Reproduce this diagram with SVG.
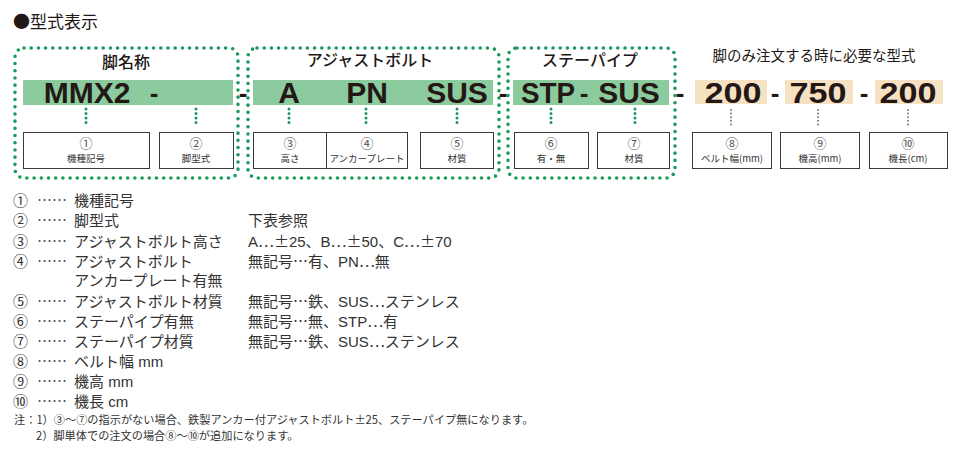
<svg xmlns="http://www.w3.org/2000/svg" width="960" height="449" viewBox="0 0 960 449">
<style>
text{font-family:"Liberation Sans","Noto Sans CJK JP",sans-serif;fill:#231815}
.jp{font-family:"Noto Sans CJK JP","Liberation Sans",sans-serif}
.hd{font-family:"Noto Sans CJK JP",sans-serif;font-size:16px;font-weight:500;text-anchor:middle}
.big{font-family:"Liberation Sans","Noto Sans CJK JP",sans-serif;font-size:30px;font-weight:bold;text-anchor:middle}
.dash{font-family:"Liberation Sans",sans-serif;font-size:26px;font-weight:bold;text-anchor:middle}
.grp{fill:none;stroke:#1a9a5c;stroke-width:3.6;stroke-dasharray:0 7.2;stroke-linecap:round}
.gbar{fill:#8ccb9d}
.tbar{fill:#f6e2c3}
.box{fill:#fff;stroke:#3a3a3a;stroke-width:1}
.num{font-family:"Noto Sans CJK JP",sans-serif;font-size:13px;text-anchor:middle;fill:#555}
.lbl{font-family:"Noto Sans CJK JP",sans-serif;font-size:9.5px;text-anchor:middle;fill:#333}
.cg{stroke:#1a9a5c;stroke-width:3;stroke-dasharray:0 4.5;stroke-linecap:round;fill:none}
.cy{stroke:#777;stroke-width:2;stroke-dasharray:0 3.6;stroke-linecap:round;fill:none}
.lg{font-family:"Liberation Sans","Noto Sans CJK JP",sans-serif;font-size:15px;fill:#333}
.w{font-family:"Noto Sans CJK JP",sans-serif}
.lc{font-family:"Noto Sans CJK JP",sans-serif;font-size:15px;fill:#333}
.ld{font-family:"Noto Sans CJK JP",sans-serif;font-size:15px;fill:#555}
.nt{font-family:"Noto Sans CJK JP",sans-serif;font-size:11.2px;fill:#333}
</style>
<rect width="960" height="449" fill="#fff"/>
<text class="jp" x="13" y="28" font-size="17">●型式表示</text>

<g id="group-leg">
<rect class="grp" x="15" y="48" width="223" height="130" rx="9"/>
<text class="hd" x="126" y="68">脚名称</text>
<rect class="gbar" x="23" y="80" width="210" height="25"/>
<text class="big" x="87" y="103">MMX2</text>
<text class="dash" x="154" y="102">-</text>
</g>
<g id="group-bolt">
<rect class="grp" x="248" y="48" width="251" height="130" rx="9"/>
<text class="hd" x="370" y="66">アジャストボルト</text>
<rect class="gbar" x="253" y="80" width="240" height="25"/>
<text class="big" x="289" y="103">A</text>
<text class="big" x="367" y="103">PN</text>
<text class="big" x="457" y="103">SUS</text>
</g>
<g id="group-pipe">
<rect class="grp" x="508" y="48" width="167" height="130" rx="9"/>
<text class="hd" x="590" y="66">ステーパイプ</text>
<rect class="gbar" x="513" y="80" width="156" height="25"/>
<text class="big" x="548" y="103" textLength="54" lengthAdjust="spacingAndGlyphs">STP</text>
<text class="dash" x="584" y="102">-</text>
<text class="big" x="629" y="103">SUS</text>
</g>
<g id="group-only">
<text class="jp" x="814" y="61" font-size="14.5" text-anchor="middle" fill="#333">脚のみ注文する時に必要な型式</text>
<rect class="tbar" x="695" y="80" width="72" height="24"/>
<rect class="tbar" x="785" y="80" width="68" height="24"/>
<rect class="tbar" x="875" y="80" width="68" height="24"/>
<text class="big" x="733" y="103" textLength="57" lengthAdjust="spacingAndGlyphs">200</text>
<text class="big" x="818" y="103" textLength="57" lengthAdjust="spacingAndGlyphs">750</text>
<text class="big" x="908" y="103" textLength="57" lengthAdjust="spacingAndGlyphs">200</text>
</g>
<g id="separators">
<text class="dash" x="243" y="102">-</text>
<text class="dash" x="503" y="102">-</text>
<text class="dash" x="680" y="102">-</text>
<text class="dash" x="775" y="102">-</text>
<text class="dash" x="864" y="102">-</text>
</g>

<g id="connectors">
<line class="cg" x1="86" y1="109" x2="86" y2="127"/>
<line class="cg" x1="196" y1="109" x2="196" y2="127"/>
<line class="cg" x1="289" y1="109" x2="289" y2="127"/>
<line class="cg" x1="366" y1="109" x2="366" y2="127"/>
<line class="cg" x1="457" y1="109" x2="457" y2="127"/>
<line class="cg" x1="551" y1="109" x2="551" y2="127"/>
<line class="cg" x1="635" y1="109" x2="635" y2="127"/>
<line class="cy" x1="731" y1="110" x2="731" y2="127"/>
<line class="cy" x1="818" y1="110" x2="818" y2="127"/>
<line class="cy" x1="908" y1="110" x2="908" y2="127"/>
</g>

<g id="box1"><rect class="box" x="23.5" y="132.5" width="126" height="36"/><text class="num" x="86" y="148">①</text><text class="lbl" x="86" y="162">機種記号</text></g>
<g id="box2"><rect class="box" x="159.5" y="132.5" width="74" height="36"/><text class="num" x="196" y="148">②</text><text class="lbl" x="196" y="162">脚型式</text></g>
<g id="box3"><rect class="box" x="253.5" y="132.5" width="73" height="36"/><text class="num" x="290" y="148">③</text><text class="lbl" x="290" y="162">高さ</text></g>
<g id="box4"><rect class="box" x="326.5" y="132.5" width="81" height="36"/><text class="num" x="367" y="148">④</text><text class="lbl" x="367" y="162" font-size="9">アンカープレート</text></g>
<g id="box5"><rect class="box" x="420.5" y="132.5" width="73" height="36"/><text class="num" x="457" y="148">⑤</text><text class="lbl" x="457" y="162">材質</text></g>
<g id="box6"><rect class="box" x="514.5" y="132.5" width="74" height="36"/><text class="num" x="551" y="148">⑥</text><text class="lbl" x="551" y="162">有・無</text></g>
<g id="box7"><rect class="box" x="597.5" y="132.5" width="72" height="36"/><text class="num" x="634" y="148">⑦</text><text class="lbl" x="634" y="162">材質</text></g>
<g id="box8"><rect class="box" x="692.5" y="132.5" width="79" height="36"/><text class="num" x="732" y="148">⑧</text><text class="lbl" x="732" y="162">ベルト幅(mm)</text></g>
<g id="box9"><rect class="box" x="780.5" y="132.5" width="79" height="36"/><text class="num" x="820" y="148">⑨</text><text class="lbl" x="820" y="162">機高(mm)</text></g>
<g id="box10"><rect class="box" x="869.5" y="132.5" width="78" height="36"/><text class="num" x="908" y="148">⑩</text><text class="lbl" x="908" y="162">機長(cm)</text></g>

<g id="legend">
<text class="lc" x="13" y="206">①</text><text class="ld" x="37" y="206">……</text><text class="lg" x="74" y="206">機種記号</text>
<text class="lc" x="13" y="226">②</text><text class="ld" x="37" y="226">……</text><text class="lg" x="74" y="226">脚型式</text>
<text class="lc" x="13" y="247">③</text><text class="ld" x="37" y="247">……</text><text class="lg" x="74" y="247">アジャストボルト高さ</text>
<text class="lc" x="13" y="267">④</text><text class="ld" x="37" y="267">……</text><text class="lg" x="74" y="267">アジャストボルト</text>
<text class="lg" x="74" y="286">アンカープレート有無</text>
<text class="lc" x="13" y="307">⑤</text><text class="ld" x="37" y="307">……</text><text class="lg" x="74" y="307">アジャストボルト材質</text>
<text class="lc" x="13" y="327">⑥</text><text class="ld" x="37" y="327">……</text><text class="lg" x="74" y="327">ステーパイプ有無</text>
<text class="lc" x="13" y="347">⑦</text><text class="ld" x="37" y="347">……</text><text class="lg" x="74" y="347">ステーパイプ材質</text>
<text class="lc" x="13" y="367">⑧</text><text class="ld" x="37" y="367">……</text><text class="lg" x="74" y="367">ベルト幅 mm</text>
<text class="lc" x="13" y="387">⑨</text><text class="ld" x="37" y="387">……</text><text class="lg" x="74" y="387">機高 mm</text>
<text class="lc" x="13" y="407">⑩</text><text class="ld" x="37" y="407">……</text><text class="lg" x="74" y="407">機長 cm</text>
<text class="lg" x="248" y="226">下表参照</text>
<text class="lg" x="248" y="247">A<tspan class="w">…±</tspan>25、B<tspan class="w">…±</tspan>50、C<tspan class="w">…±</tspan>70</text>
<text class="lg" x="248" y="267">無記号<tspan class="w">…</tspan>有、PN<tspan class="w">…</tspan>無</text>
<text class="lg" x="248" y="307">無記号<tspan class="w">…</tspan>鉄、SUS<tspan class="w">…</tspan>ステンレス</text>
<text class="lg" x="248" y="327">無記号<tspan class="w">…</tspan>無、STP<tspan class="w">…</tspan>有</text>
<text class="lg" x="248" y="347">無記号<tspan class="w">…</tspan>鉄、SUS<tspan class="w">…</tspan>ステンレス</text>
</g>
<g id="notes">
<text class="nt" x="14" y="424">注：1）③～⑦の指示がない場合、鉄製アンカー付アジャストボルト±25、ステーパイプ無になります。</text>
<text class="nt" x="36" y="440">2）脚単体での注文の場合⑧～⑩が追加になります。</text>
</g>
</svg>
